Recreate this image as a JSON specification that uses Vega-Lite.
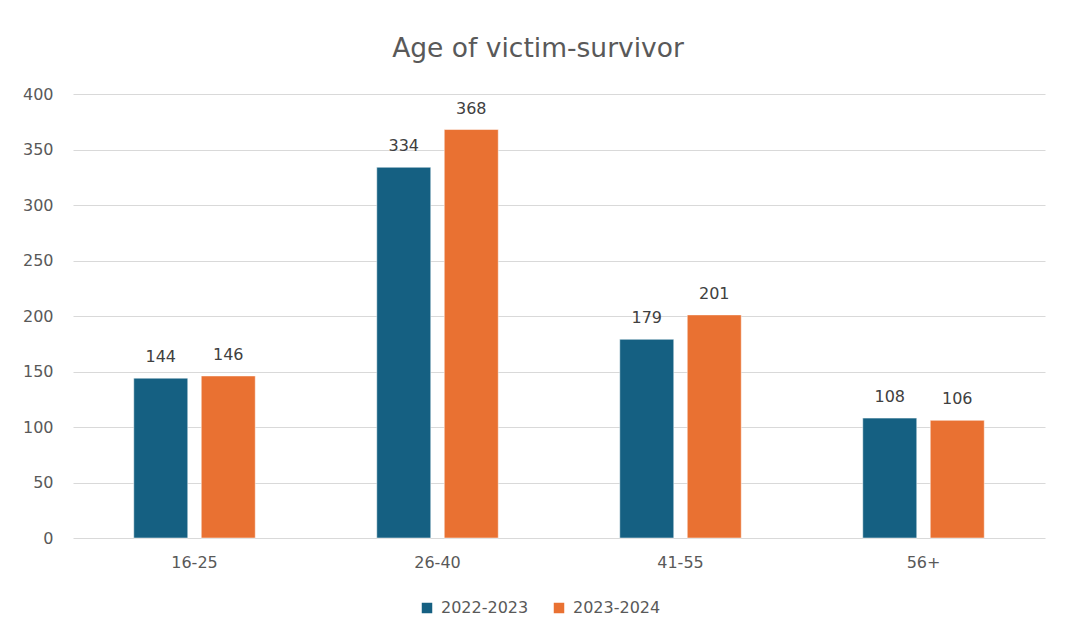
{
  "$schema": "https://vega.github.io/schema/vega-lite/v6.json",
  "autosize": {"type": "none"},
  "width": 972,
  "height": 444,
  "padding": {"left": 73, "top": 94, "right": 20, "bottom": 99},
  "background": "white",
  "config": {
    "font": "DejaVu Sans",
    "view": {"stroke": null}
  },
  "title": {
    "text": "Age of victim-survivor",
    "fontSize": 26.5,
    "fontWeight": "normal",
    "color": "#595959",
    "anchor": "middle",
    "dx": -21,
    "offset": 24
  },
  "data": {
    "values": [
      {"age": "16-25", "period": "2022-2023", "count": 144},
      {"age": "16-25", "period": "2023-2024", "count": 146},
      {"age": "26-40", "period": "2022-2023", "count": 334},
      {"age": "26-40", "period": "2023-2024", "count": 368},
      {"age": "41-55", "period": "2022-2023", "count": 179},
      {"age": "41-55", "period": "2023-2024", "count": 201},
      {"age": "56+", "period": "2022-2023", "count": 108},
      {"age": "56+", "period": "2023-2024", "count": 106}
    ]
  },
  "encoding": {
    "x": {
      "field": "age",
      "type": "nominal",
      "sort": null,
      "scale": {"paddingInner": 0.5, "paddingOuter": 0.25},
      "axis": {
        "title": null,
        "labelAngle": 0,
        "labelColor": "#595959",
        "labelFontSize": 16,
        "labelPadding": 16,
        "ticks": false,
        "domain": false
      }
    },
    "xOffset": {
      "field": "period",
      "type": "nominal",
      "scale": {"paddingInner": 0.2}
    },
    "y": {
      "field": "count",
      "type": "quantitative",
      "scale": {"domain": [0, 400]},
      "axis": {
        "title": null,
        "values": [0, 50, 100, 150, 200, 250, 300, 350, 400],
        "labelColor": "#595959",
        "labelFontSize": 16,
        "labelPadding": 20,
        "ticks": false,
        "domain": false,
        "gridColor": "#D9D9D9",
        "gridWidth": 1
      }
    }
  },
  "layer": [
    {
      "mark": {"type": "bar", "stroke": "white", "strokeWidth": 0.5},
      "encoding": {
        "color": {
          "field": "period",
          "type": "nominal",
          "scale": {"domain": ["2022-2023", "2023-2024"], "range": ["#156082", "#E97132"]},
          "legend": {
            "title": null,
            "orient": "none",
            "direction": "horizontal",
            "legendX": 346,
            "legendY": 506,
            "symbolType": "square",
            "symbolSize": 110,
            "symbolStrokeWidth": 0,
            "labelFontSize": 16,
            "labelColor": "#595959",
            "columnPadding": 22,
            "labelOffset": 6
          }
        }
      }
    },
    {
      "mark": {"type": "text", "baseline": "alphabetic", "dy": -16, "fontSize": 16, "color": "#404040"},
      "encoding": {
        "text": {"field": "count", "type": "quantitative"}
      }
    }
  ]
}
